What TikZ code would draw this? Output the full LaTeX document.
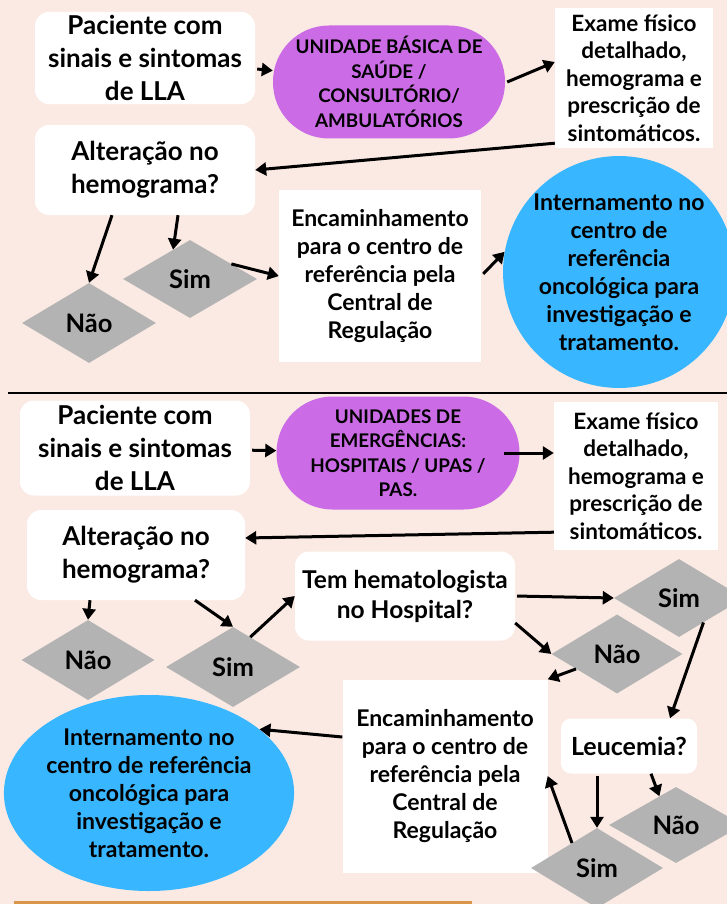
\documentclass[tikz,border=0pt]{standalone}
\usepackage{fontspec}
\setmainfont{Lato}
\usetikzlibrary{arrows.meta,shapes.geometric}
\definecolor{bgpink}{HTML}{FAEAE3}
\definecolor{unitpurple}{HTML}{CB6CE6}
\definecolor{interblue}{HTML}{38B6FF}
\definecolor{diagray}{HTML}{B3B3B3}
\definecolor{lineorange}{HTML}{D9954A}

\begin{document}
\begin{tikzpicture}[x=1pt,y=-1pt,
    rbox/.style={fill=white,rounded corners=14pt,align=center,font=\bfseries\fontsize{26}{33}\selectfont},
    sbox/.style={fill=white,align=center,font=\bfseries\fontsize{22.5}{27.5}\selectfont},
    unit/.style={fill=unitpurple,rounded corners=56pt,align=center,minimum width=232pt,minimum height=113pt,font=\bfseries\fontsize{18.8}{24.5}\selectfont},
    inter/.style={fill=interblue,align=center,font=\bfseries\fontsize{23}{28}\selectfont},
    dec/.style={diamond,fill=diagray,inner sep=0pt,minimum width=134pt,minimum height=80pt,font=\bfseries\fontsize{25.5}{28}\selectfont},
    arr/.style={line width=3pt,-{Triangle[length=11pt,width=13pt]}}]

    \clip (0,0) rectangle (727,904);
    \fill[bgpink] (0,0) rectangle (727,904);

    % first route: basic health unit
    \node[rbox,minimum width=220pt,minimum height=90pt] (P1) at (145,58) {Paciente com\\sinais e sintomas\\de LLA};
    \node[unit] (U1) at (389,82) {UNIDADE BÁSICA DE\\SAÚDE /\\CONSULTÓRIO/\\AMBULATÓRIOS};
    \node[sbox,minimum width=158pt,minimum height=140pt] (E1) at (634,78) {Exame físico\\detalhado,\\hemograma e\\prescrição de\\sintomáticos.};
    \node[rbox,minimum width=220pt,minimum height=90pt] (A1) at (145,170) {Alteração no\\hemograma?};
    \node[dec] (N1) at (89,323) {Não};
    \node[dec,minimum height=78pt] (S1) at (190,279) {Sim};
    \node[sbox,minimum width=202pt,minimum height=172pt,font=\bfseries\fontsize{23}{28}\selectfont] (Enc1) at (380,276) {Encaminhamento\\para o centro de\\referência pela\\Central de\\Regulação};
    \node[inter,circle,minimum size=230pt,inner sep=0pt] (Int1) at (619,272) {Internamento no\\centro de\\referência\\oncológica para\\investigação e\\tratamento.};

    \draw[line width=2pt] (8,393) -- (727,393);

    % second route: emergency units
    \node[rbox,minimum width=230pt,minimum height=95pt] (P2) at (135,448) {Paciente com\\sinais e sintomas\\de LLA};
    \node[unit,minimum width=243pt] (U2) at (398,453) {UNIDADES DE\\EMERGÊNCIAS:\\HOSPITAIS / UPAS /\\PAS.};
    \node[sbox,minimum width=164pt,minimum height=148pt] (E2) at (636,476) {Exame físico\\detalhado,\\hemograma e\\prescrição de\\sintomáticos.};
    \node[rbox,minimum width=218pt,minimum height=90pt] (A2) at (136,555) {Alteração no\\hemograma?};
    \node[dec,minimum width=133pt] (N2) at (88,660) {Não};
    \node[dec] (S2) at (233,667) {Sim};
    \node[rbox,minimum width=220pt,minimum height=89pt,font=\bfseries\fontsize{24.5}{30}\selectfont] (Tem) at (405,596) {Tem hematologista\\no Hospital?};
    \node[dec,minimum width=130pt,minimum height=78pt] (SimH) at (679,598) {Sim};
    \node[dec,minimum width=131pt,minimum height=79pt] (NaoH) at (617,654) {Não};
    \node[sbox,minimum width=205pt,minimum height=193pt,font=\bfseries\fontsize{23}{28}\selectfont] (Enc2) at (445,776) {Encaminhamento\\para o centro de\\referência pela\\Central de\\Regulação};
    \node[rbox,rounded corners=10pt,minimum width=136pt,minimum height=55pt,font=\bfseries\fontsize{25}{28}\selectfont] (Leu) at (629,746) {Leucemia?};
    \node[dec,minimum height=76pt] (NaoL) at (676,825) {Não};
    \node[dec,minimum width=132pt] (SimL) at (597,868) {Sim};
    \node[inter,ellipse,minimum width=280pt,minimum height=196pt,inner sep=0pt] (Int2) at (149,793) {Internamento no\\centro de referência\\oncológica para\\investigação e\\tratamento.};

    \draw[line width=3pt,lineorange] (14,902) -- (472,902);

    % connectors
    \foreach \from/\to in {P1/U1, P2/U2, Tem.east/SimH.west}
      \draw[arr,shorten <=2pt] (\from) -- (\to);

    \draw[arr] ([xshift=2pt]U1.east) -- ([yshift=16pt]E1.west);
    \draw[arr] ([yshift=5pt]E1.south west) -- (A1.east);
    \draw[arr] ([xshift=-33pt]A1.south) -- (N1.north);
    \draw[arr] ([xshift=33pt]A1.south) -- (S1.120);
    \draw[arr] (S1.20) -- (Enc1.west);
    \draw[arr,shorten <=3pt] (Enc1.east) -- (Int1.170);

    \draw[arr] ([xshift=-16pt]U2.east) -- (U2.east -| E2.west);
    \draw[arr] ([yshift=18pt]E2.south west) -- ([yshift=17pt]A2.east);
    \draw[arr] ([xshift=-46pt]A2.south) -- (N2.north);
    \draw[arr] ([xshift=59pt]A2.south) -- (S2.north);
    \draw[arr] (S2.60) -- (Tem.west);
    \draw[arr] ([yshift=-27pt]Tem.east) -- (NaoH.west);
    \draw[arr] (NaoH.200) -- (Enc2.north east);
    \draw[arr] (SimH.-45) -- ([xshift=41pt]Leu.north);
    \draw[arr,shorten <=2pt] (SimL.north |- Leu.south) -- (SimL.north);
    \draw[arr] ([xshift=22pt]Leu.south) -- (NaoL.120);
    \draw[arr] (SimL.135) -- (Enc2.east);
    \draw[arr] ([yshift=39pt]Enc2.west) -- (Int2.30);
  \end{tikzpicture}
\end{document}
